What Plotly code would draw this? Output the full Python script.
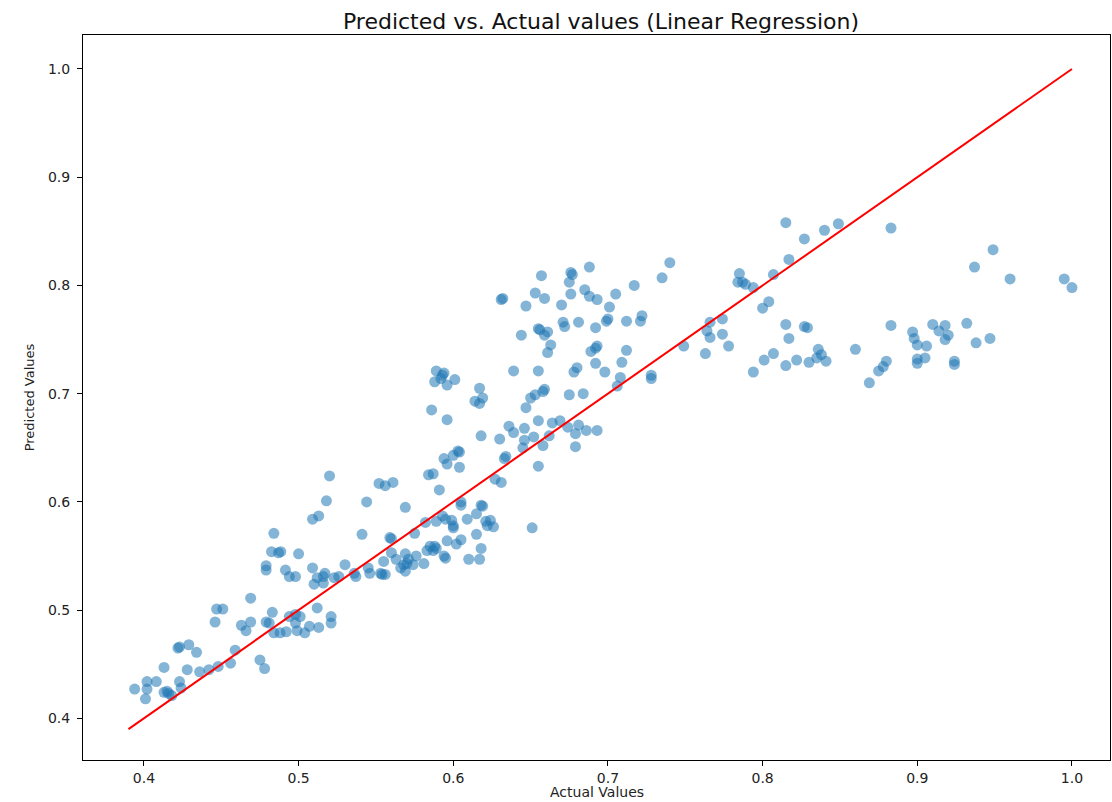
import plotly.graph_objects as go

# Actual values (x) and predicted values (y)
actual = [
    0.447, 0.451, 0.446, 0.463, 0.469, 0.466, 0.469, 0.483, 0.479, 0.481,
    0.484, 0.488, 0.492, 0.494, 0.498, 0.501, 0.498, 0.499, 0.504, 0.507,
    0.512, 0.422, 0.423, 0.429, 0.434, 0.459, 0.456, 0.475, 0.478, 0.413,
    0.428, 0.436, 0.442, 0.448, 0.402, 0.408, 0.423, 0.394, 0.402, 0.413,
    0.415, 0.416, 0.424, 0.401, 0.418,
    0.484, 0.4825, 0.487, 0.4885, 0.500, 0.479, 0.479, 0.4915, 0.494, 0.498,
    0.518, 0.544, 0.569, 0.509, 0.513, 0.541, 0.559, 0.560, 0.575, 0.582,
    0.589, 0.593, 0.595, 0.599, 0.600, 0.600, 0.605, 0.605, 0.609, 0.615,
    0.618, 0.619, 0.621, 0.622, 0.626, 0.624, 0.615, 0.605, 0.602, 0.596,
    0.585, 0.588, 0.583, 0.587, 0.589, 0.594, 0.595, 0.610, 0.617, 0.618,
    0.560, 0.555, 0.569, 0.576, 0.571, 0.563, 0.568, 0.570, 0.566, 0.569,
    0.574, 0.581, 0.554, 0.556, 0.553, 0.545, 0.546, 0.536, 0.537, 0.530,
    0.526, 0.523, 0.517, 0.516, 0.512, 0.510, 0.516, 0.509, 0.521, 0.521,
    0.513,
    0.589, 0.594, 0.593, 0.588, 0.592, 0.596, 0.601, 0.617, 0.614, 0.617,
    0.619, 0.586, 0.596, 0.618, 0.603, 0.604, 0.600, 0.594, 0.596, 0.604,
    0.584, 0.587, 0.520, 0.552, 0.556, 0.561, 0.591,
    0.740, 0.735, 0.717, 0.688, 0.676, 0.677, 0.675, 0.657, 0.685, 0.688,
    0.693, 0.705, 0.676, 0.653, 0.659, 0.670, 0.647, 0.631, 0.632, 0.701,
    0.700, 0.699, 0.712, 0.722, 0.721, 0.681, 0.692, 0.671, 0.672, 0.655,
    0.656, 0.661, 0.659, 0.644, 0.663, 0.661, 0.693, 0.692, 0.689, 0.712,
    0.749, 0.639, 0.655, 0.680, 0.678, 0.692, 0.709, 0.698, 0.708, 0.706,
    0.728, 0.728, 0.659, 0.658, 0.653, 0.650, 0.675, 0.684,
    0.647, 0.655, 0.664, 0.669, 0.674, 0.681, 0.679, 0.686, 0.693, 0.679,
    0.636, 0.646, 0.639, 0.630, 0.646, 0.652, 0.662, 0.658, 0.645, 0.634,
    0.633, 0.655, 0.627, 0.631, 0.651,
    0.815, 0.827, 0.840, 0.849, 0.817, 0.807, 0.785, 0.784, 0.787, 0.789,
    0.794, 0.804, 0.800, 0.774, 0.766, 0.764, 0.766, 0.774, 0.778, 0.763,
    0.815, 0.827, 0.829, 0.817, 0.807, 0.801, 0.794, 0.815, 0.822, 0.830,
    0.836, 0.838, 0.835, 0.841, 0.860, 0.869, 0.875,
    0.883, 0.949, 0.937, 0.960, 0.995, 1.000, 0.883, 0.910, 0.918, 0.932,
    0.897, 0.898, 0.900, 0.906, 0.914, 0.920, 0.918, 0.938, 0.947, 0.880,
    0.878, 0.900, 0.905, 0.900, 0.924, 0.924,
]
predicted = [
    0.501, 0.501, 0.489, 0.486, 0.489, 0.481, 0.511, 0.498, 0.489, 0.488,
    0.479, 0.479, 0.480, 0.494, 0.496, 0.494, 0.488, 0.481, 0.479, 0.485,
    0.502, 0.465, 0.466, 0.468, 0.461, 0.463, 0.451, 0.454, 0.446, 0.447,
    0.445, 0.443, 0.445, 0.448, 0.434, 0.434, 0.434, 0.427, 0.427, 0.424,
    0.425, 0.423, 0.428, 0.418, 0.421,
    0.571, 0.554, 0.553, 0.554, 0.552, 0.541, 0.537, 0.537, 0.531, 0.531,
    0.601, 0.600, 0.595, 0.584, 0.587, 0.570, 0.567, 0.566, 0.571, 0.581,
    0.582, 0.587, 0.584, 0.583, 0.578, 0.576, 0.600, 0.597, 0.584, 0.589,
    0.597, 0.596, 0.582, 0.578, 0.577, 0.583, 0.570, 0.565, 0.561, 0.564,
    0.559, 0.559, 0.555, 0.555, 0.557, 0.550, 0.548, 0.547, 0.547, 0.557,
    0.553, 0.545, 0.552, 0.550, 0.547, 0.547, 0.542, 0.543, 0.539, 0.536,
    0.542, 0.543, 0.533, 0.533, 0.534, 0.539, 0.534, 0.534, 0.531, 0.542,
    0.531, 0.530, 0.534, 0.531, 0.530, 0.524, 0.525, 0.539, 0.494, 0.488,
    0.484,
    0.721, 0.719, 0.717, 0.711, 0.714, 0.708, 0.713, 0.705, 0.693, 0.691,
    0.696, 0.685, 0.676, 0.661, 0.647, 0.646, 0.643, 0.640, 0.635, 0.632,
    0.625, 0.626, 0.624, 0.617, 0.615, 0.618, 0.611,
    0.821, 0.807, 0.800, 0.817, 0.812, 0.810, 0.803, 0.809, 0.796, 0.790,
    0.787, 0.792, 0.792, 0.793, 0.788, 0.782, 0.781, 0.787, 0.788, 0.780,
    0.769, 0.767, 0.767, 0.772, 0.767, 0.766, 0.761, 0.766, 0.762, 0.760,
    0.759, 0.757, 0.754, 0.754, 0.745, 0.738, 0.744, 0.742, 0.739, 0.740,
    0.744, 0.721, 0.721, 0.724, 0.720, 0.728, 0.729, 0.720, 0.715, 0.707,
    0.717, 0.714, 0.704, 0.702, 0.699, 0.696, 0.699, 0.700,
    0.687, 0.675, 0.673, 0.675, 0.669, 0.671, 0.663, 0.666, 0.666, 0.651,
    0.670, 0.668, 0.664, 0.658, 0.657, 0.660, 0.661, 0.652, 0.650, 0.642,
    0.640, 0.633, 0.621, 0.618, 0.576,
    0.858, 0.843, 0.851, 0.857, 0.824, 0.810, 0.811, 0.803, 0.803, 0.801,
    0.798, 0.785, 0.779, 0.769, 0.766, 0.758, 0.752, 0.755, 0.744, 0.737,
    0.764, 0.762, 0.761, 0.751, 0.737, 0.731, 0.720, 0.726, 0.731, 0.729,
    0.741, 0.736, 0.733, 0.730, 0.741, 0.710, 0.721,
    0.853, 0.833, 0.817, 0.806, 0.806, 0.798, 0.763, 0.764, 0.763, 0.765,
    0.757, 0.751, 0.745, 0.744, 0.758, 0.754, 0.750, 0.747, 0.751, 0.730,
    0.725, 0.732, 0.733, 0.728, 0.730, 0.727,
]

# Identity reference line endpoints (min and max of actual values)
line_ends = [0.39, 1.0]

title_text = "Predicted vs. Actual values (Linear Regression)"
x_label = "Actual Values"
y_label = "Predicted Values"
tick_vals = [0.4, 0.5, 0.6, 0.7, 0.8, 0.9, 1.0]
tick_text = ["0.4", "0.5", "0.6", "0.7", "0.8", "0.9", "1.0"]

fig = go.Figure()
fig.add_trace(go.Scatter(
    x=actual, y=predicted, mode="markers",
    marker=dict(color="#1f77b4", opacity=0.55, size=11, line=dict(width=0)),
    showlegend=False,
))
fig.add_trace(go.Scatter(
    x=line_ends, y=line_ends, mode="lines",
    line=dict(color="#ff0000", width=2),
    showlegend=False,
))

axis_common = dict(
    showgrid=False, zeroline=False,
    showline=True, linecolor="black", linewidth=1, mirror=True,
    ticks="outside", ticklen=5, tickwidth=1, tickcolor="black",
    tickvals=tick_vals, ticktext=tick_text,
    tickfont=dict(family="DejaVu Sans", size=14, color="#222"),
    automargin=False,
)

plot_top, plot_bottom = 35, 760

fig.update_layout(
    width=1112, height=802,
    margin=dict(l=83, r=2, t=plot_top, b=802 - plot_bottom),
    paper_bgcolor="white", plot_bgcolor="white",
    title=dict(text=title_text, x=601 / 1112, xanchor="center",
               y=1 - 21 / 802, yanchor="middle", yref="container",
               font=dict(family="DejaVu Sans", size=22, color="#111")),
    xaxis=dict(range=[0.3606, 1.0246], **axis_common),
    yaxis=dict(range=[0.3615, 1.0314], ticklabelstandoff=4,
               title=dict(text=y_label, standoff=10,
                          font=dict(family="DejaVu Sans", size=13, color="#222")),
               **axis_common),
    annotations=[dict(
        text=x_label, xref="paper", yref="paper",
        x=0.5, y=(plot_bottom - 792) / (plot_bottom - plot_top),
        xanchor="center", yanchor="middle",
        showarrow=False,
        font=dict(family="DejaVu Sans", size=14, color="#222"),
    )],
)

fig.write_html("out.html")
